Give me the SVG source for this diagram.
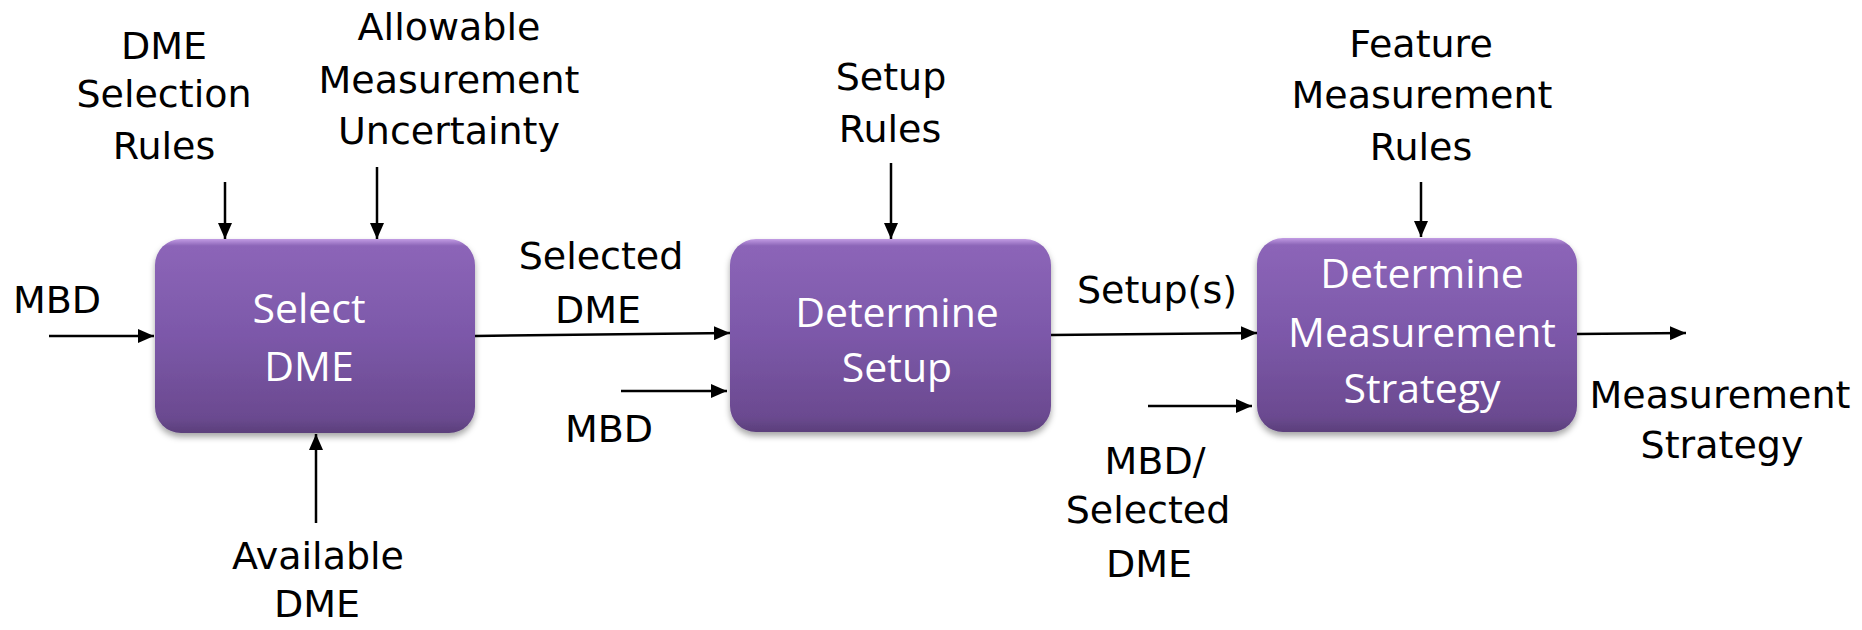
<svg xmlns="http://www.w3.org/2000/svg" width="1862" height="630" viewBox="0 0 1862 630">
<style>
.lbl{font-family:"DejaVu Sans","Liberation Sans",sans-serif;font-size:38px;fill:#000;text-anchor:middle}
.btx{font-family:"Open Sans","Liberation Sans",sans-serif;font-size:41px;fill:#fff;text-anchor:middle}
.box{fill:url(#boxg);filter:url(#sh)}
.con{stroke:#000;stroke-width:2.5;fill:none;marker-end:url(#ah)}
</style>
<defs>
<linearGradient id="boxg" x1="0" y1="0" x2="0" y2="1">
<stop offset="0" stop-color="#c29ce4"/>
<stop offset="0.035" stop-color="#8c65b8"/>
<stop offset="0.5" stop-color="#7c58a9"/>
<stop offset="0.92" stop-color="#6b4a90"/>
<stop offset="1" stop-color="#5b3f7b"/>
</linearGradient>
<filter id="sh" x="-10%" y="-10%" width="120%" height="130%">
<feDropShadow dx="0" dy="4" stdDeviation="3" flood-color="#000" flood-opacity="0.35"/>
</filter>
<marker id="ah" viewBox="0 0 16 14" refX="16" refY="7" markerWidth="16" markerHeight="14" markerUnits="userSpaceOnUse" orient="auto">
<path d="M0,0 L16,7 L0,14 z" fill="#000"/>
</marker>
</defs>
<g id="connectors">
<line class="con" x1="49" y1="336" x2="154" y2="336"/>
<line class="con" x1="225" y1="182" x2="225" y2="239"/>
<line class="con" x1="377" y1="167" x2="377" y2="239"/>
<line class="con" x1="316" y1="523" x2="316" y2="434"/>
<line class="con" x1="475" y1="336" x2="730" y2="333"/>
<line class="con" x1="891" y1="163" x2="891" y2="239"/>
<line class="con" x1="621" y1="391" x2="727" y2="391"/>
<line class="con" x1="1051" y1="335" x2="1257" y2="333"/>
<line class="con" x1="1421" y1="182" x2="1421" y2="237"/>
<line class="con" x1="1148" y1="406" x2="1252" y2="406"/>
<line class="con" x1="1577" y1="334" x2="1686" y2="333"/>
</g>
<g id="select-dme">
<rect class="box" x="155" y="239" width="320" height="194" rx="26"/>
<text class="btx" x="309" y="323">Select</text>
<text class="btx" x="309" y="381">DME</text>
</g>
<g id="determine-setup">
<rect class="box" x="730" y="239" width="321" height="193" rx="26"/>
<text class="btx" x="897" y="327">Determine</text>
<text class="btx" x="897" y="382">Setup</text>
</g>
<g id="determine-strategy">
<rect class="box" x="1257" y="238" width="320" height="194" rx="26"/>
<text class="btx" x="1422" y="288">Determine</text>
<text class="btx" x="1422" y="347">Measurement</text>
<text class="btx" x="1422" y="403">Strategy</text>
</g>
<g id="labels">
<text class="lbl" x="164" y="59">DME</text>
<text class="lbl" x="164" y="107">Selection</text>
<text class="lbl" x="164" y="159">Rules</text>
<text class="lbl" x="449" y="40">Allowable</text>
<text class="lbl" x="449" y="93">Measurement</text>
<text class="lbl" x="449" y="144">Uncertainty</text>
<text class="lbl" x="57" y="313">MBD</text>
<text class="lbl" x="318" y="569">Available</text>
<text class="lbl" x="317" y="617">DME</text>
<text class="lbl" x="601" y="269">Selected</text>
<text class="lbl" x="598" y="323">DME</text>
<text class="lbl" x="891" y="90">Setup</text>
<text class="lbl" x="890" y="142">Rules</text>
<text class="lbl" x="609" y="442">MBD</text>
<text class="lbl" x="1157" y="303">Setup(s)</text>
<text class="lbl" x="1155" y="474">MBD/</text>
<text class="lbl" x="1148" y="523">Selected</text>
<text class="lbl" x="1149" y="577">DME</text>
<text class="lbl" x="1421" y="57">Feature</text>
<text class="lbl" x="1422" y="108">Measurement</text>
<text class="lbl" x="1421" y="160">Rules</text>
<text class="lbl" x="1720" y="408">Measurement</text>
<text class="lbl" x="1722" y="458">Strategy</text>
</g>
</svg>
